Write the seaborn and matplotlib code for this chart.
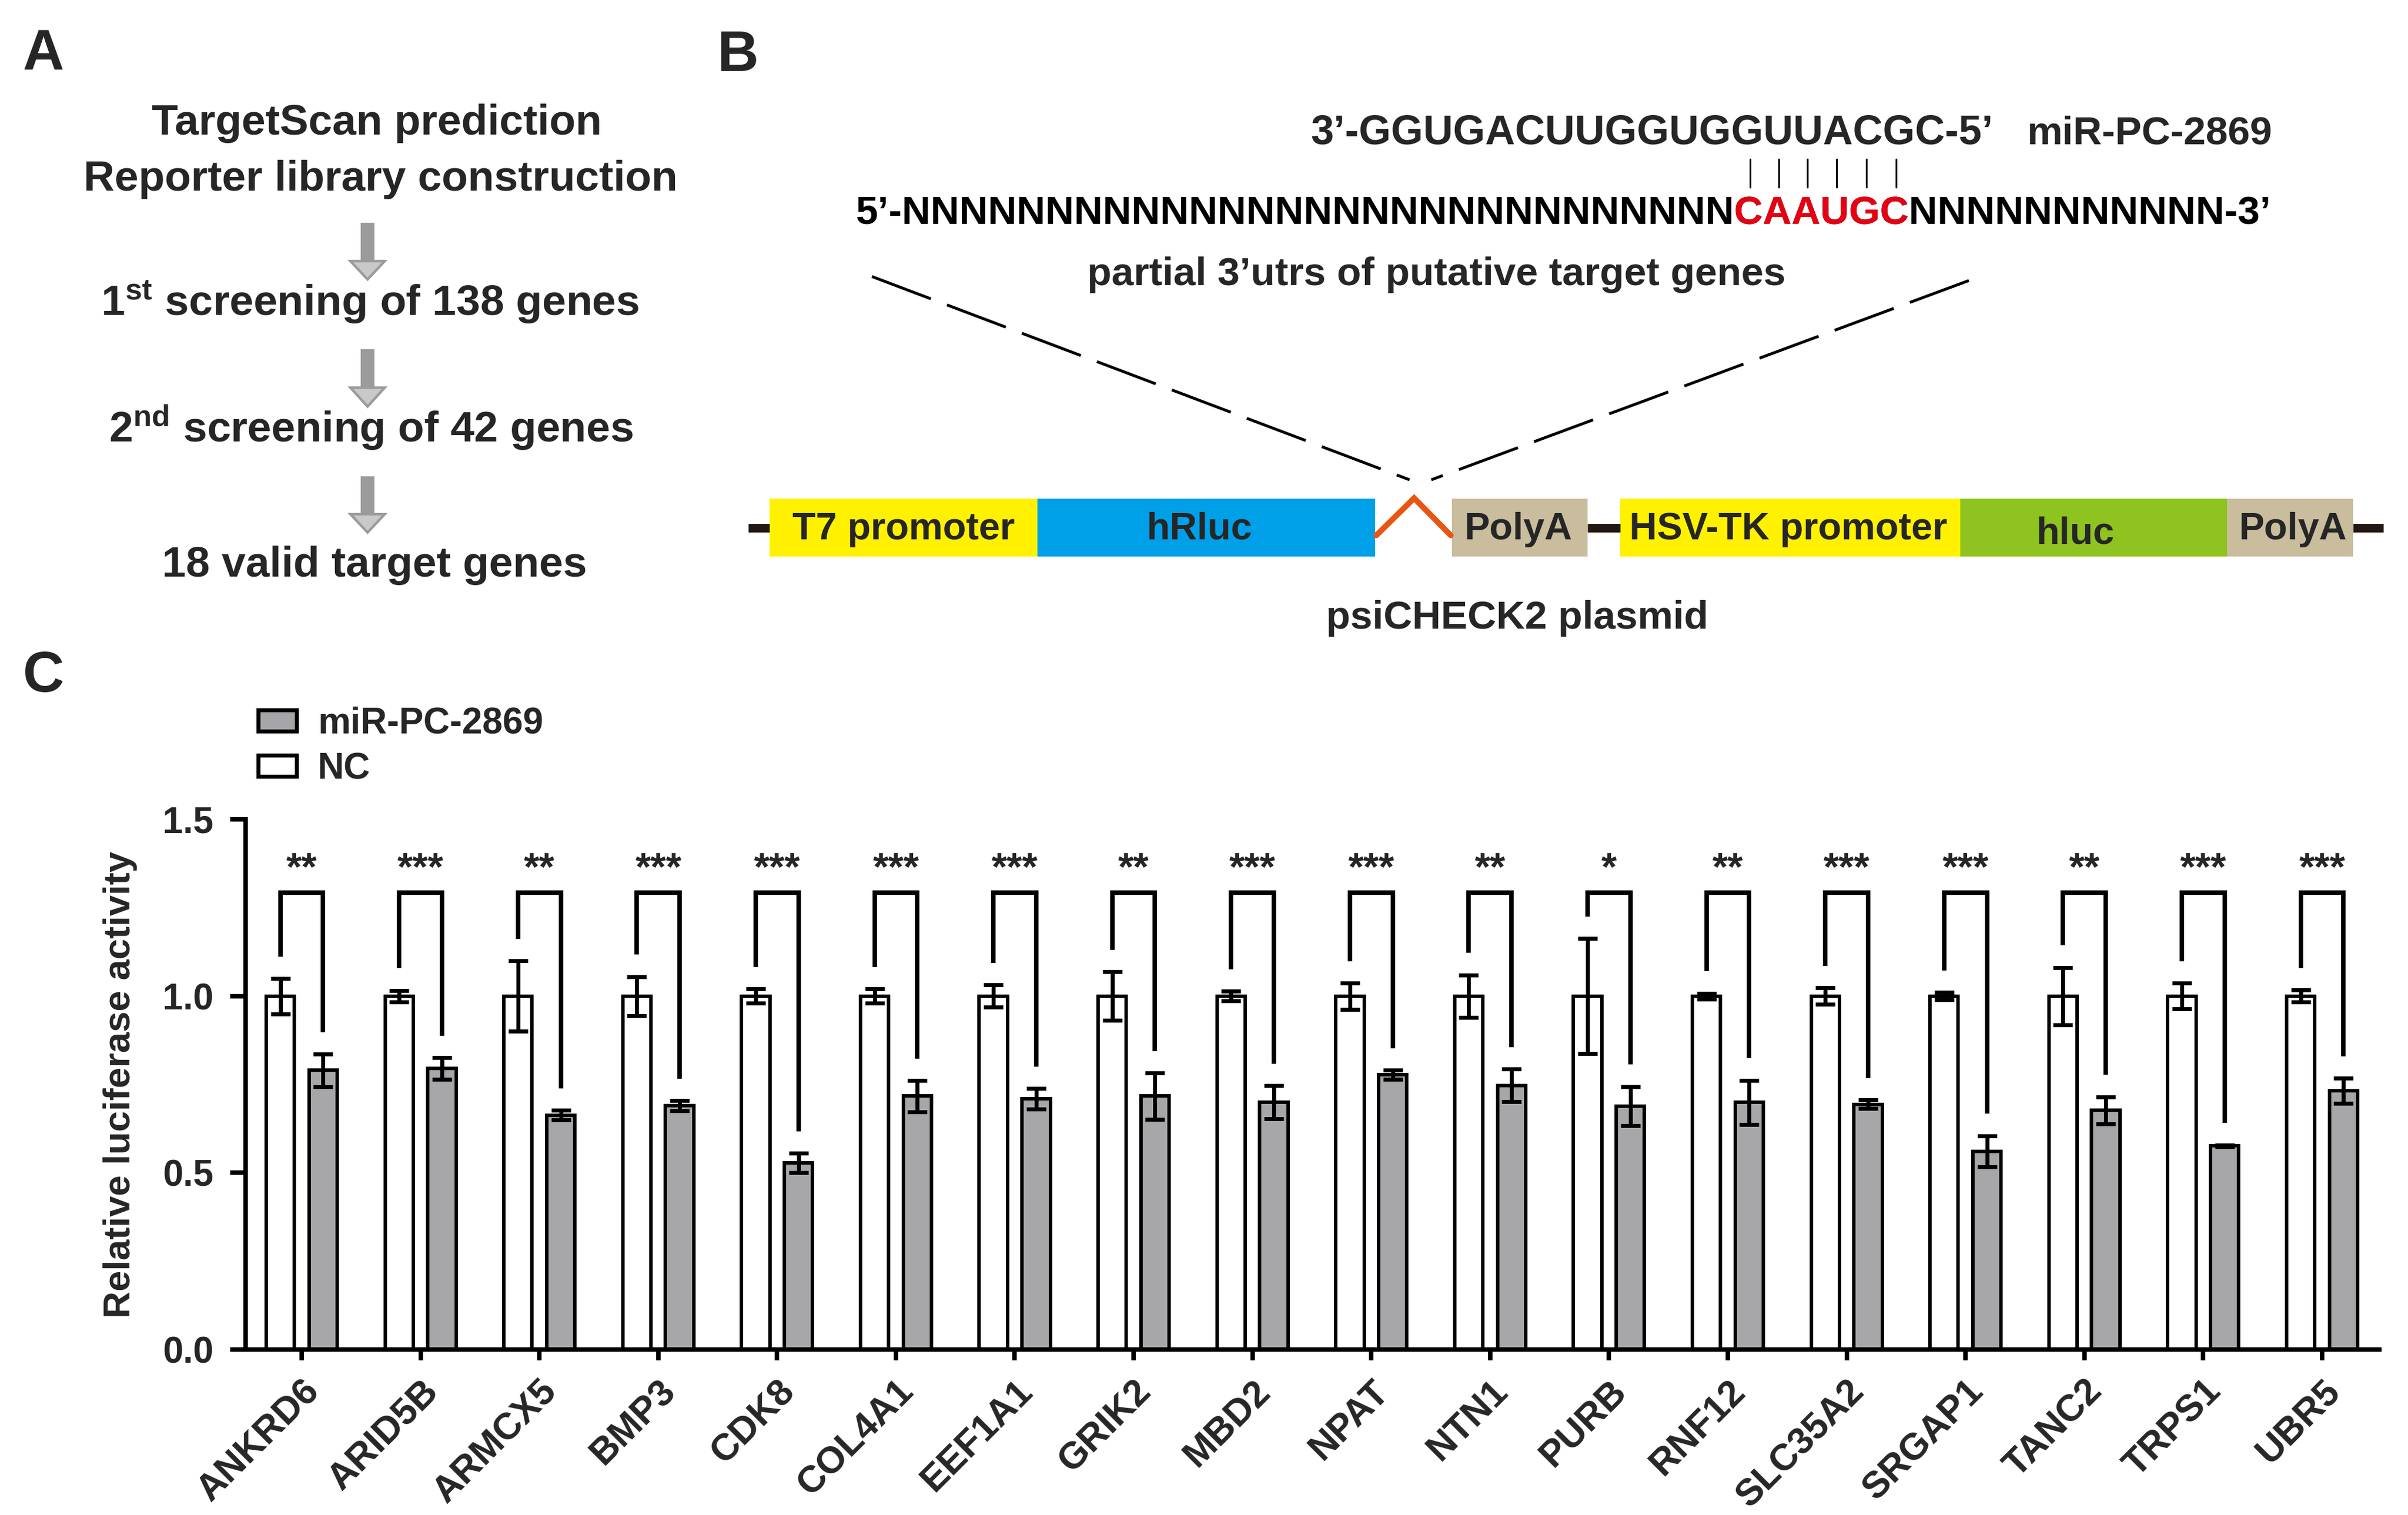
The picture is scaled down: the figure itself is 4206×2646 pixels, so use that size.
import numpy as np
import pandas as pd
import matplotlib
matplotlib.use("Agg")
import matplotlib.pyplot as plt
import seaborn as sns
from matplotlib.patches import Rectangle, Polygon, Patch
from matplotlib.transforms import ScaledTranslation, Bbox, TransformedBbox

# ---------------- data ----------------
genes = ["ANKRD6", "ARID5B", "ARMCX5", "BMP3", "CDK8", "COL4A1", "EEF1A1", "GRIK2",
         "MBD2", "NPAT", "NTN1", "PURB", "RNF12", "SLC35A2", "SRGAP1", "TANC2",
         "TRPS1", "UBR5"]
groups = ["NC", "miR-PC-2869"]
nc_mean = [1.0] * 18
nc_err = [0.050, 0.016, 0.100, 0.055, 0.020, 0.020, 0.032, 0.069, 0.014, 0.037,
          0.060, 0.163, 0.008, 0.024, 0.010, 0.081, 0.036, 0.017]
mir_mean = [0.790, 0.795, 0.663, 0.690, 0.528, 0.717, 0.709, 0.717, 0.700, 0.777,
            0.747, 0.689, 0.699, 0.694, 0.561, 0.677, 0.576, 0.732]
mir_err = [0.046, 0.031, 0.014, 0.015, 0.027, 0.044, 0.029, 0.065, 0.047, 0.013,
           0.046, 0.055, 0.063, 0.012, 0.044, 0.038, 0.003, 0.036]
sig = ["**", "***", "**", "***", "***", "***", "***", "**", "***", "***", "**", "*",
       "**", "***", "***", "**", "***", "***"]
yticks = [0.0, 0.5, 1.0, 1.5]
ytick_labels = ["0.0", "0.5", "1.0", "1.5"]

GRAY = "#a6a6aa"

# ---------------- style ----------------
sns.set_style("ticks")
plt.rcParams["font.family"] = ["Liberation Sans", "DejaVu Sans"]
plt.rcParams["font.weight"] = "bold"
plt.rcParams["mathtext.fontset"] = "custom"
plt.rcParams["mathtext.rm"] = "Liberation Sans:bold"
plt.rcParams["mathtext.bf"] = "Liberation Sans:bold"
plt.rcParams["mathtext.it"] = "Liberation Sans:bold"

W, H = 4206, 2646
DPI = 200
fig = plt.figure(figsize=(W / DPI, H / DPI), dpi=DPI, facecolor="white")

# overlay axes in pixel coordinates for panels A and B
ax0 = fig.add_axes([0, 0, 1, 1], zorder=-1)
ax0.set_xlim(0, W)
ax0.set_ylim(H, 0)
ax0.axis("off")

# ---------------- panel C (seaborn bar chart) ----------------
ax = fig.add_axes([0.102, 0.1092, 0.886, 0.350])
ax.set_facecolor("none")
df = pd.DataFrame({
    "gene": genes * 2,
    "group": ["NC"] * len(genes) + ["miR-PC-2869"] * len(genes),
    "value": nc_mean + mir_mean,
})
sns.barplot(data=df, x="gene", y="value", hue="group", order=genes, hue_order=groups,
            palette={"NC": "white", "miR-PC-2869": GRAY}, edgecolor="black",
            linewidth=2.2, width=0.72, gap=0.34, errorbar=None, legend=False,
            ax=ax, zorder=2)

bars = [p for p in ax.patches]
nc_bars = sorted([p for p in bars if p.get_facecolor()[0] > 0.9], key=lambda p: p.get_x())
mir_bars = sorted([p for p in bars if p.get_facecolor()[0] <= 0.9], key=lambda p: p.get_x())
nc_x = np.array([p.get_x() + p.get_width() / 2 for p in nc_bars])
mir_x = np.array([p.get_x() + p.get_width() / 2 for p in mir_bars])

ekw = dict(fmt="none", ecolor="black", elinewidth=2.5, capsize=6, capthick=2.5, zorder=3)
ax.errorbar(nc_x, nc_mean, yerr=nc_err, **ekw)
ax.errorbar(mir_x, mir_mean, yerr=mir_err, **ekw)

top = 1.292
gap_b = 0.062
for i in range(len(genes)):
    x1, x2 = nc_x[i], mir_x[i]
    b1 = nc_mean[i] + nc_err[i] + gap_b
    b2 = mir_mean[i] + mir_err[i] + gap_b
    ax.plot([x1, x1, x2, x2], [b1, top, top, b2], color="black", lw=2.8,
            solid_joinstyle="miter", solid_capstyle="butt", zorder=3)
    ax.text((x1 + x2) / 2, 1.33, sig[i], ha="center", va="baseline", fontsize=25,
            fontweight="bold")

ax.set_xlim(-0.472, 17.48)
ax.set_ylim(0, 1.5)
ax.set_yticks(yticks)
ax.set_yticklabels(ytick_labels)
ax.set_xticks(range(len(genes)))
ax.set_xticklabels(genes, rotation=45, ha="right", va="top", rotation_mode="anchor")
for lab in ax.get_xticklabels():
    lab.set_transform(lab.get_transform() + ScaledTranslation(27 / DPI, 0, fig.dpi_scale_trans))
for lab in ax.get_xticklabels() + ax.get_yticklabels():
    lab.set_fontweight("bold")
ax.tick_params(axis="y", length=9.7, width=2.8, labelsize=23, pad=10.5, color="black")
ax.tick_params(axis="x", length=7, width=2.8, labelsize=23.5, pad=8.3, color="black")
ax.set_xlabel("")
ax.set_ylabel("Relative luciferase activity", fontsize=23.5, fontweight="bold")
ax.yaxis.set_label_coords((240 - 429) / (0.886 * W), 0.5)
sns.despine(ax=ax)
for s in ["left", "bottom"]:
    ax.spines[s].set_linewidth(2.8)
    ax.spines[s].set_color("black")

handles = [Patch(facecolor=GRAY, edgecolor="black", lw=2.5, label="miR-PC-2869"),
           Patch(facecolor="white", edgecolor="black", lw=2.5, label="NC")]
fig.legend(handles=handles, loc="upper left", bbox_to_anchor=(451 / W, 1 - 1234 / H),
           bbox_transform=fig.transFigure, frameon=False,
           prop={"size": 23, "weight": "bold"}, handlelength=1.05, handleheight=0.53,
           handletextpad=0.58, labelspacing=0.3, borderpad=0, borderaxespad=0)

# ---------------- panel letters ----------------
for letter, (x, y) in {"A": (76, 123), "B": (1288, 124), "C": (76, 1208)}.items():
    ax0.text(x, y, letter, ha="center", va="baseline", fontsize=36, fontweight="bold")

# ---------------- panel A ----------------
tA = dict(ha="center", va="baseline", fontsize=27, fontweight="bold")
ax0.text(658, 235, "TargetScan prediction", **tA)
ax0.text(665, 333, "Reporter library construction", **tA)
ax0.text(646, 551, r"1$^{\mathbf{st}}$ screening of 138 genes", **tA)
ax0.text(648, 772, r"2$^{\mathbf{nd}}$ screening of 42 genes", **tA)
ax0.text(654, 1007, "18 valid target genes", **tA)
for t0, m0, b0 in [(389, 456, 488), (610, 677, 710), (832, 898, 930)]:
    ax0.add_patch(Rectangle((630, t0), 24, m0 - t0, facecolor="#9b9b9b", edgecolor="none"))
    ax0.add_patch(Polygon([(612, m0), (672, m0), (642, b0)], closed=True,
                          facecolor="#c9c9c9", edgecolor="#9b9b9b", lw=1.6))

# ---------------- panel B ----------------
renderer = fig.canvas.get_renderer()
inv = ax0.transData.inverted()


def ink_box(s, x, y, **kw):
    t = ax0.text(x, y, s, **kw)
    bb = t.get_window_extent(renderer)
    t.remove()
    (x0, y0) = inv.transform((bb.x0, bb.y0))
    (x1, y1) = inv.transform((bb.x1, bb.y1))
    return x0, x1


RED = "#e60012"
kw5 = dict(ha="left", va="baseline", fontsize=25, fontweight="bold")
prefix = "5\u2019-" + "N" * 29
seed = "CAAUGC"
suffix = "N" * 11 + "-3\u2019"
full = prefix + seed + suffix
x5, y5 = 1495, 392
ax0.text(x5, y5, full, color="black", **kw5)
red_t = ax0.text(x5, y5, full, color=RED, **kw5)
_, r_pre = ink_box(prefix, x5, y5, **kw5)
_, r_seed = ink_box(prefix + seed, x5, y5, **kw5)
clip = TransformedBbox(Bbox([[r_pre + 2, 300], [r_seed + 3, 420]]), ax0.transData)
red_t.set_clip_box(clip)
red_t.set_clip_on(True)

# centres of each seed letter
rights = [r_pre] + [ink_box(prefix + seed[:k + 1], x5, y5, **kw5)[1] for k in range(6)]
centres = [(rights[k] + rights[k + 1]) / 2 + 2 for k in range(6)]
for cx in centres:
    ax0.plot([cx, cx], [278, 327], color="black", lw=1.1)

# miRNA line aligned so that GUUACG sits over the seed
kwm = dict(ha="left", va="baseline", fontsize=26, fontweight="bold")
m_left = "3\u2019-GGUGACUUGGUG"
m_mid = "GUUACG"
m_full = m_left + m_mid + "C-5\u2019"
_, r_l = ink_box(m_left, 0, 252, **kwm)
_, r_m = ink_box(m_left + m_mid, 0, 252, **kwm)
mid_c = (r_l + r_m) / 2
seed_c = (centres[0] + centres[-1]) / 2
ax0.text(seed_c - mid_c, 252, m_full, **kwm)
ax0.text(3540, 252, "miR-PC-2869", ha="left", va="baseline", fontsize=25, fontweight="bold")

ax0.text(2509, 498, "partial 3\u2019utrs of putative target genes", ha="center",
         va="baseline", fontsize=25, fontweight="bold")

# dashed guide lines
ax0.plot([1523, 2462], [483, 838], color="black", lw=1.8, ls=(0, (22, 6)))
ax0.plot([3439, 2500], [490, 838], color="black", lw=1.8, ls=(0, (22, 6)))

# plasmid map
y_top, y_bot = 871, 972
segments = [(1344, 1812, "#fff100", "T7 promoter", 1578),
            (1812, 2402, "#00a0e9", "hRluc", 2095),
            (2536, 2773, "#c9bd9e", "PolyA", 2652),
            (2830, 3424, "#fff100", "HSV-TK promoter", 3124),
            (3424, 3890, "#8fc31f", "hluc", 3625),
            (3890, 4110, "#c9bd9e", "PolyA", 4005)]
for x0s, x1s, col, lab, tx in segments:
    ax0.add_patch(Rectangle((x0s, y_top), x1s - x0s, y_bot - y_top, facecolor=col,
                            edgecolor="none"))
    ty = 950 if lab == "hluc" else 942
    ax0.text(tx, ty, lab, ha="center", va="baseline", fontsize=24, fontweight="bold")
for xa, xb in [(1307, 1344), (2773, 2830), (4110, 4163)]:
    ax0.plot([xa, xb], [922, 922], color="#231815", lw=5.4, solid_capstyle="butt")
ax0.plot([2404, 2470, 2534], [935, 870, 935], color="#e95513", lw=3.6,
         solid_joinstyle="miter")
ax0.text(2650, 1098, "psiCHECK2 plasmid", ha="center", va="baseline", fontsize=25,
         fontweight="bold")

fig.savefig("out.png", dpi=DPI, facecolor="white")
